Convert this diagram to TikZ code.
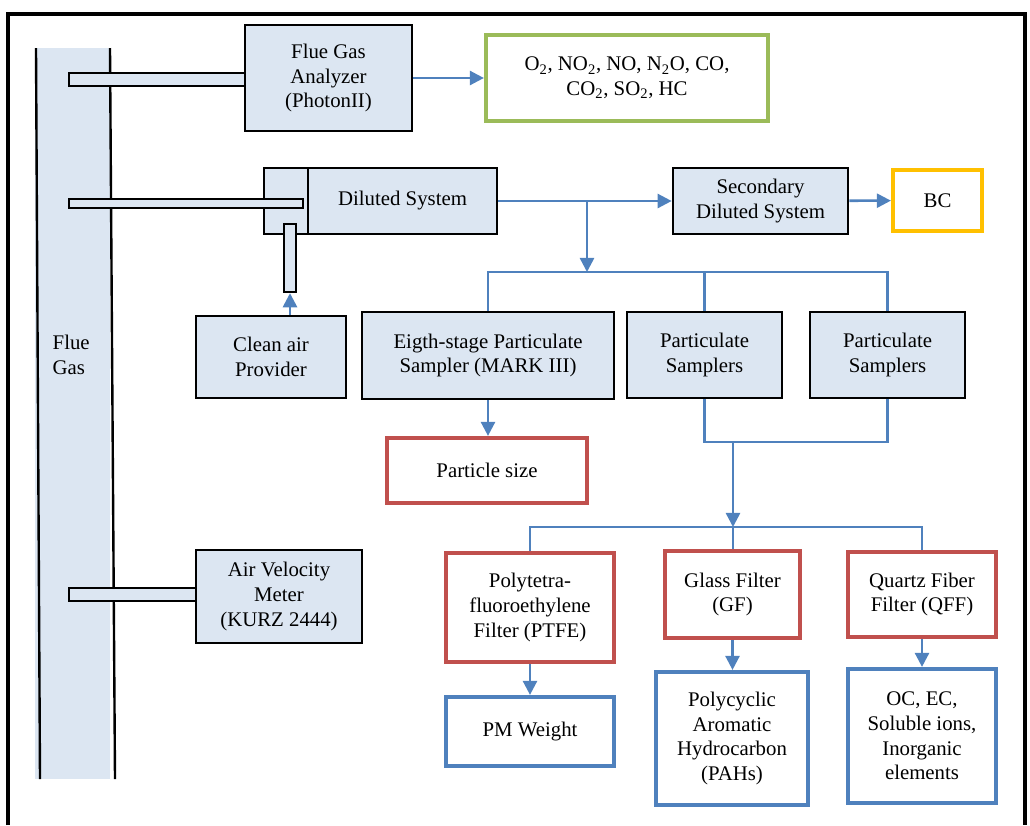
\documentclass[tikz,border=0pt]{standalone}
\usepackage{fontspec}
\setmainfont{Liberation Serif}
\usetikzlibrary{arrows.meta}

\definecolor{boxfill}{HTML}{DCE6F2}
\definecolor{flowblue}{HTML}{4F81BD}
\definecolor{filtred}{HTML}{C0504D}
\definecolor{gasgreen}{HTML}{9BBB59}
\definecolor{bcyellow}{HTML}{FFC000}

\tikzset{dims/.style 2 args={minimum width=#1*0.025cm, minimum height=#2*0.025cm}}

\begin{document}
\begin{tikzpicture}
[
  x=0.025cm, y=-0.025cm,
  every node/.style={font=\fontsize{14.8}{17.5}\selectfont, align=center, inner sep=1pt},
  unit/.style={draw=black, line width=1.9pt, fill=boxfill},
  filt/.style={draw=filtred, line width=3pt, fill=white},
  res/.style={draw=flowblue, line width=3pt, fill=white},
  link/.style={draw=flowblue, line width=1.8pt},
  flow/.style={link, -{Triangle[length=10pt,width=10pt]}},
  probe/.style={draw=black, line width=1.7pt, fill=boxfill}
]

\useasboundingbox (0,0) rectangle (1030,825);

% frame
\draw[line width=2.2pt] (8,825) -- (8,14) -- (1025,14) -- (1025,825);

% stack
\fill[boxfill] (35,48) rectangle (110,779);
\draw[line width=1.7pt] (36,48) -- (40,779);
\draw[line width=1.7pt] (110,48) -- (115,779);
\node[anchor=west, align=left] (flue) at (51,355) {Flue\\Gas};

% sampling probes
\draw[probe] (69,73) rectangle (245,86);
\draw[probe] (69,588) rectangle (196,601);

\node[unit, dims={167}{106}] (ana) at (328.5,78) {Flue Gas\\Analyzer\\(PhotonII)};
\node[draw=gasgreen, line width=3pt, dims={282}{86}] (gas) at (627,78)
  {O\textsubscript{2}, NO\textsubscript{2}, NO, N\textsubscript{2}O, CO,\\CO\textsubscript{2}, SO\textsubscript{2}, HC};

\node[unit, dims={44}{66}] (inlet) at (286,201) {};
\draw[probe] (69,199) rectangle (303,208);
\node[unit, dims={189}{66}] (dil) at (402.5,201) {Diluted System};
\node[probe, dims={12}{68}, inner sep=0pt] (tube) at (290,258) {};

\node[unit, dims={175}{66}] (sec) at (760.5,201) {Secondary\\Diluted System};
\node[draw=bcyellow, line width=3pt, dims={89}{61}] (bc) at (937.5,200.5) {BC};

\node[unit, dims={150}{82}] (clean) at (271,357) {Clean air\\Provider};
\node[unit, dims={252}{87}] (mark) at (488,355.5) {Eigth-stage Particulate\\Sampler (MARK III)};
\node[unit, dims={155}{86}] (ps1) at (704.5,355) {Particulate\\Samplers};
\node[unit, dims={155}{86}] (ps2) at (887.5,355) {Particulate\\Samplers};

\node[filt, dims={200}{65}] (size) at (487,470.5) {Particle size};

\node[unit, dims={166}{93}] (avm) at (279,596.5) {Air Velocity\\Meter\\(KURZ 2444)};

\node[filt, dims={168}{109}] (ptfe) at (530,607.5) {Polytetra-\\fluoroethylene\\Filter (PTFE)};
\node[filt, dims={135}{87}] (gf) at (732.5,594.5) {Glass Filter\\(GF)};
\node[filt, dims={148}{85}] (qff) at (922,594.5) {Quartz Fiber\\Filter (QFF)};

\node[res, dims={168}{69}] (pm) at (530,731.5) {PM Weight};
\node[res, dims={152}{133}] (pah) at (732,738.5) {Polycyclic\\Aromatic\\Hydrocarbon\\(PAHs)};
\node[res, dims={148}{134}] (oc) at (922,736) {OC, EC,\\Soluble ions,\\Inorganic\\elements};

\coordinate (split) at (587,201);
\coordinate (bus) at (587,272);
\coordinate (join) at (733,442);
\coordinate (bus2) at (733,527);

\draw[flow] (ana) -- (gas);
\draw[flow] (dil) -- (sec);
\draw[flow] (sec) -- (bc);
\draw[flow] (clean.north -| tube.south) -- (tube.south);
\draw[flow] (split) -- (bus);
\draw[link] (mark.north) -- (mark.north |- bus) -| (ps2.north);
\draw[link] (ps1.north) -- (ps1.north |- bus);
\draw[flow] (mark.south) -- (mark.south |- size.north);
\draw[link] (ps1.south) |- (join) -| (ps2.south);
\draw[flow] (join) -- (bus2);
\draw[link] (ptfe.north) |- (bus2) -| (qff.north);
\draw[link] (bus2) -- (gf.north -| bus2);
\draw[flow] (ptfe) -- (pm);
\draw[flow] (gf.south) -- (gf.south |- pah.north);
\draw[flow] (qff) -- (oc);

\end{tikzpicture}
\end{document}
